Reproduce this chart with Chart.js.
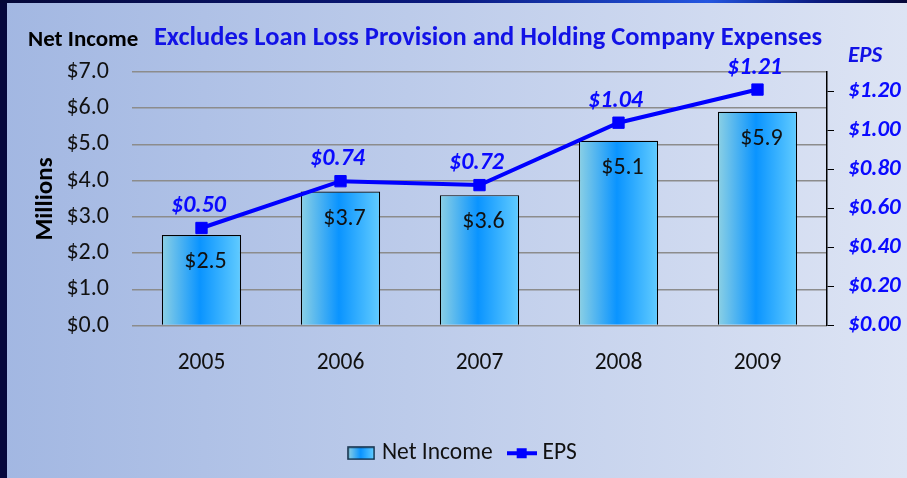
<!DOCTYPE html>
<html>
<head>
<meta charset="utf-8">
<script src="https://cdn.jsdelivr.net/npm/chart.js@4.4.0/dist/chart.umd.min.js"></script>
<style>
  html, body { margin: 0; padding: 0; }
  body { width: 907px; height: 478px; overflow: hidden; background: #04073a; }
  #wrap { position: absolute; left: 0; top: 0; width: 907px; height: 478px;
    background: linear-gradient(90deg, #a2b7e2 0%, #bccbea 45%, #dde4f4 100%); }
  .edgeL { position: absolute; left: 0; top: 0; width: 7px; height: 478px; background: #05073c; }
  .edgeT { position: absolute; left: 0; top: 0; width: 907px; height: 3px;
    background: linear-gradient(90deg, #050838 0%, #0a1a80 50%, #2456e0 78%, #0a1a80 90%, #050838 100%); }
  canvas { position: absolute; left: 0; top: 0; }
</style>
</head>
<body>
<div id="wrap">
  <canvas id="chart" width="907" height="478"></canvas>
  <div class="edgeL"></div>
  <div class="edgeT"></div>
</div>
<script>
// données
const years = ['2005', '2006', '2007', '2008', '2009'];
const netIncome = [2.5, 3.7, 3.6, 5.1, 5.9];   // millions $
const eps = [0.50, 0.74, 0.72, 1.04, 1.21];

const FONT = 'Carlito, Lato, "Open Sans", sans-serif';
const BAR_PCT = 0.57;

function addBarStops(gr) {
  gr.addColorStop(0, '#8cd0e4');
  gr.addColorStop(0.48, '#0a94ff');
  gr.addColorStop(1, '#62ccff');
  return gr;
}

// dégradé horizontal par barre
function barFill(ctx) {
  const chart = ctx.chart;
  const xs = chart.scales.x;
  if (!xs || ctx.dataIndex === undefined) return '#1a9cff';
  const cx = xs.getPixelForValue(ctx.dataIndex);
  const half = xs.width / years.length * BAR_PCT / 2;
  return addBarStops(chart.ctx.createLinearGradient(cx - half, 0, cx + half, 0));
}

function makeBarIcon() {
  const cv = document.createElement('canvas');
  cv.width = 28; cv.height = 14;
  const g = cv.getContext('2d');
  g.fillStyle = addBarStops(g.createLinearGradient(1, 0, 27, 0));
  g.fillRect(1, 1, 26, 12);
  g.strokeStyle = '#0d2a44';
  g.lineWidth = 1.5;
  g.strokeRect(1, 1, 26, 12);
  return cv;
}

function makeLineIcon() {
  const cv = document.createElement('canvas');
  cv.width = 30; cv.height = 14;
  const g = cv.getContext('2d');
  g.strokeStyle = '#0000ff';
  g.lineWidth = 4;
  g.beginPath(); g.moveTo(0, 7); g.lineTo(30, 7); g.stroke();
  g.fillStyle = '#0000ff';
  g.fillRect(10, 2, 10, 10);
  return cv;
}

const labelPlugin = {
  id: 'valueLabels',
  afterDatasetsDraw(chart) {
    const c = chart.ctx;
    c.save();
    c.textAlign = 'center';
    c.textBaseline = 'middle';
    c.font = '24px ' + FONT;
    c.fillStyle = '#111';
    chart.getDatasetMeta(0).data.forEach((el, i) => {
      c.fillText('$' + netIncome[i].toFixed(1), el.x + 4, el.y + 27);
    });
    c.font = 'italic bold 24px ' + FONT;
    c.fillStyle = '#0a0aff';
    chart.getDatasetMeta(1).data.forEach((el, i) => {
      c.fillText('$' + eps[i].toFixed(2), el.x - 3, el.y - 22);
    });
    c.restore();
  }
};

const textPlugin = {
  id: 'titles',
  afterDraw(chart) {
    const c = chart.ctx;
    c.save();
    c.textBaseline = 'alphabetic';
    c.fillStyle = '#000';
    c.font = 'bold 23px ' + FONT;
    c.textAlign = 'left';
    c.fillText('Net Income', 28, 46);
    c.fillStyle = '#1212e6';
    c.font = 'bold 26.5px ' + FONT;
    c.textAlign = 'center';
    c.fillText('Excludes Loan Loss Provision and Holding Company Expenses', 488, 45);
    c.font = 'italic bold 23px ' + FONT;
    c.textAlign = 'left';
    c.fillText('EPS', 848, 62);
    c.fillStyle = '#000';
    c.font = 'bold 25px ' + FONT;
    c.translate(52, 199);
    c.rotate(-Math.PI / 2);
    c.textAlign = 'center';
    c.fillText('Millions', 0, 0);
    c.restore();
  }
};

new Chart(document.getElementById('chart'), {
  type: 'bar',
  data: {
    labels: years,
    datasets: [{
      label: 'Net Income',
      data: netIncome,
      yAxisID: 'y',
      order: 1,
      backgroundColor: barFill,
      borderColor: '#000',
      borderWidth: { top: 1.2, left: 1.2, right: 1.2, bottom: 0 },
      barPercentage: BAR_PCT,
      categoryPercentage: 1
    }, {
      type: 'line',
      label: 'EPS',
      data: eps,
      yAxisID: 'y1',
      order: 0,
      borderColor: '#0000ff',
      backgroundColor: '#0000ff',
      borderWidth: 4,
      tension: 0,
      pointStyle: 'rect',
      pointRadius: 8,
      pointBorderWidth: 1
    }]
  },
  options: {
    responsive: false,
    animation: false,
    devicePixelRatio: 1,
    layout: { padding: { top: 72, left: 22, right: 0, bottom: 3 } },
    scales: {
      x: {
        grid: { display: false, drawTicks: false },
        border: { display: false },
        ticks: { color: '#111', font: { family: FONT, size: 23.5 }, padding: 24 },
        afterFit: s => { s.height = 96; }
      },
      y: {
        position: 'left',
        min: 0, max: 7,
        grid: { color: '#8c8c8c', lineWidth: 1.5, drawTicks: false },
        border: { display: false },
        ticks: {
          stepSize: 1, padding: 23, color: '#111',
          font: { family: FONT, size: 24 },
          callback: v => '$' + v.toFixed(1)
        },
        afterFit: s => { s.width = 110; }
      },
      y1: {
        position: 'right',
        min: 0, max: 1.3,
        grid: { drawOnChartArea: false, drawTicks: true, tickLength: 7, color: '#000', lineWidth: 1 },
        border: { display: true, color: '#000', width: 1.5 },
        ticks: {
          stepSize: 0.2, padding: 14, color: '#0a0aff', includeBounds: false,
          font: { family: FONT, size: 23, weight: 'bold', style: 'italic' },
          callback: v => '$' + v.toFixed(2)
        },
        afterFit: s => { s.width = 80; }
      }
    },
    plugins: {
      tooltip: { enabled: false },
      legend: {
        position: 'bottom',
        labels: {
          usePointStyle: true,
          pointStyleWidth: 18,
          padding: 20,
          color: '#111',
          font: { family: FONT, size: 23.5 },
          generateLabels: () => [
            { text: 'Net Income', pointStyle: makeBarIcon(), datasetIndex: 0, fontColor: '#111',
              fillStyle: 'transparent', strokeStyle: 'transparent', lineWidth: 0, hidden: false },
            { text: 'EPS', pointStyle: makeLineIcon(), datasetIndex: 1, fontColor: '#111',
              fillStyle: 'transparent', strokeStyle: 'transparent', lineWidth: 0, hidden: false }
          ]
        }
      }
    }
  },
  plugins: [labelPlugin, textPlugin]
});
</script>
</body>
</html>
